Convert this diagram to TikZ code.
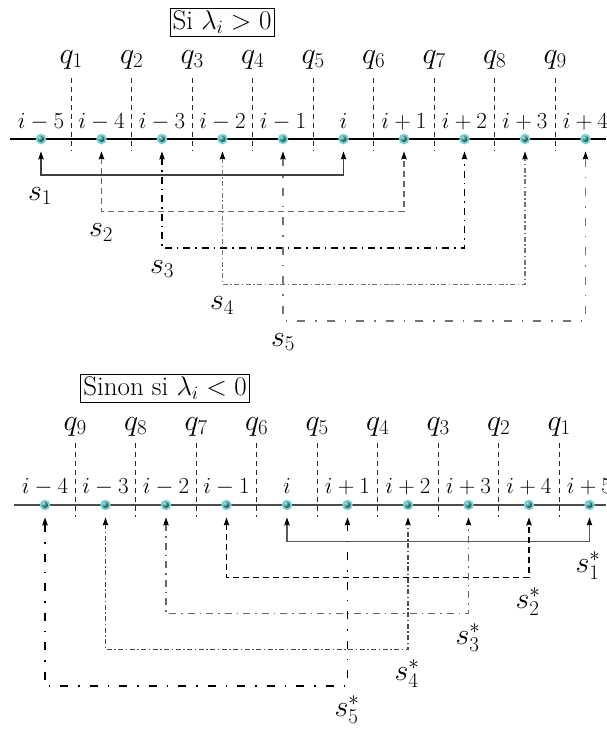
\RequirePackage{fix-cm}
\documentclass[tikz,border=0pt]{standalone}
\usetikzlibrary{arrows.meta}
\definecolor{halo}{RGB}{120,206,206}
\definecolor{balldark}{RGB}{20,120,120}
\tikzset{
  every node/.style={font=\fontsize{23}{27}\selectfont},
  big/.style={font=\fontsize{30}{34}\selectfont},
  pt/.style={circle,fill=halo,minimum size=10.5pt,inner sep=0pt,
    path picture={\shade[ball color=balldark] (path picture bounding box.center) circle (3pt);}},
  sep/.style={black!85,line width=0.9pt,dash pattern=on 5pt off 4pt},
  axis/.style={line width=1.2pt},
  lbl/.style={anchor=base,inner sep=0pt},
  titlebox/.style={draw,line width=0.8pt,inner sep=2.5pt,font=\fontsize{27}{31}\selectfont},
  link/.style={line width=1.1pt,{Stealth[length=8pt,width=5.5pt,inset=1pt,color=black]}-{Stealth[length=8pt,width=5.5pt,inset=1pt,color=black]}},
  lsolid/.style={link,black!75},
  ldash/.style={link,black!60,dash pattern=on 6pt off 4pt},
  ldashb/.style={link,black,dash pattern=on 6pt off 4pt},
  ldot/.style={link,black,dash pattern=on 7pt off 5pt on 1.5pt off 5pt},
  ldotg/.style={link,black!60,dash pattern=on 7pt off 5pt on 1.5pt off 5pt},
  ldense/.style={link,black!55,dash pattern=on 5pt off 2.5pt on 1.5pt off 2.5pt},
  ldenseb/.style={link,black!70,dash pattern=on 5pt off 2.5pt on 1.5pt off 2.5pt},
  lsparse/.style={link,black!55,dash pattern=on 8pt off 10pt on 1.5pt off 10pt},
  lsparseb/.style={link,black,dash pattern=on 8pt off 10pt on 1.5pt off 10pt},
}
\begin{document}
\begin{tikzpicture}[x=1pt,y=-1pt]
\useasboundingbox (0,0) rectangle (606,729);

% ================= TOP =================
\node[titlebox] (title1) at (222,22) {Si $\lambda_i>0$};
\coordinate (axL1) at (10,139);
\coordinate (axR1) at (606,139);
\draw[axis] (axL1) -- (axR1);
\foreach \k in {1,...,9}{
  \pgfmathsetmacro{\xs}{71.25+60.5*(\k-1)}
  \coordinate (st\k) at (\xs,78);
  \coordinate (sb\k) at (\xs,151);
  \draw[sep] (st\k) -- (sb\k);
  \node[lbl,big] (qt\k) at (\xs,63) {$q_{\k}$};
}
\foreach \k/\t in {1/i-5,2/i-4,3/i-3,4/i-2,5/i-1,6/i,7/i+1,8/i+2,9/i+3,10/i+4}{
  \pgfmathsetmacro{\xp}{41+60.5*(\k-1)}
  \node[lbl] (lt\k) at (\xp,128) {$\t$};
  \node[pt] (t\k) at (\xp,139) {};
}
\draw[lsolid] ([yshift=-7pt]t1.south) -- (t1 |- 0,175) -- (t6 |- 0,175) -- ([yshift=-7pt]t6.south);
\draw[ldash]  ([yshift=-7pt]t2.south) -- (t2 |- 0,211.5) -- (t7 |- 0,211.5) -- ([yshift=-7pt]t7.south);
\draw[ldot]   ([yshift=-7pt]t3.south) -- (t3 |- 0,248) -- (t8 |- 0,248) -- ([yshift=-7pt]t8.south);
\draw[ldense] ([yshift=-7pt]t4.south) -- (t4 |- 0,284.5) -- (t9 |- 0,284.5) -- ([yshift=-7pt]t9.south);
\draw[lsparse]([yshift=-7pt]t5.south) -- (t5 |- 0,321) -- (t10 |- 0,321) -- ([yshift=-7pt]t10.south);
\node[lbl,big] (s1) at (40,200) {$s_1$};
\node[lbl,big] (s2) at (101,236.5) {$s_2$};
\node[lbl,big] (s3) at (162,273) {$s_3$};
\node[lbl,big] (s4) at (222,309.5) {$s_4$};
\node[lbl,big] (s5) at (283,346) {$s_5$};

% ================= BOTTOM =================
\node[titlebox] (title2) at (165,388) {Sinon si $\lambda_i<0$};
\coordinate (axL2) at (14,505);
\coordinate (axR2) at (606,505);
\draw[axis,black!70] (axL2) -- (axR2);
\foreach \k/\q in {1/9,2/8,3/7,4/6,5/5,6/4,7/3,8/2,9/1}{
  \pgfmathsetmacro{\xs}{75.25+60.5*(\k-1)}
  \coordinate (bt\k) at (\xs,443);
  \coordinate (bb\k) at (\xs,517);
  \draw[sep] (bt\k) -- (bb\k);
  \node[lbl,big] (qb\k) at (\xs,430) {$q_{\q}$};
}
\foreach \k/\t in {1/i-4,2/i-3,3/i-2,4/i-1,5/i,6/i+1,7/i+2,8/i+3,9/i+4,10/i+5}{
  \pgfmathsetmacro{\xp}{45+60.5*(\k-1)}
  \node[lbl] (lb\k) at (\xp,493) {$\t$};
  \node[pt] (b\k) at (\xp,505) {};
}
\draw[lsolid,black!65] ([yshift=-7pt]b5.south) -- (b5 |- 0,541.5) -- (b10 |- 0,541.5) -- ([yshift=-7pt]b10.south);
\draw[ldashb]  ([yshift=-7pt]b4.south) -- (b4 |- 0,577.5) -- (b9 |- 0,577.5) -- ([yshift=-7pt]b9.south);
\draw[ldotg]   ([yshift=-7pt]b3.south) -- (b3 |- 0,613.5) -- (b8 |- 0,613.5) -- ([yshift=-7pt]b8.south);
\draw[ldenseb] ([yshift=-7pt]b2.south) -- (b2 |- 0,649.5) -- (b7 |- 0,649.5) -- ([yshift=-7pt]b7.south);
\draw[lsparseb]([yshift=-7pt]b1.south) -- (b1 |- 0,686) -- (b6 |- 0,686) -- ([yshift=-7pt]b6.south);
\node[lbl,big] (r1) at (588,572) {$s^*_1$};
\node[lbl,big] (r2) at (528,608) {$s^*_2$};
\node[lbl,big] (r3) at (468,644) {$s^*_3$};
\node[lbl,big] (r4) at (407,680) {$s^*_4$};
\node[lbl,big] (r5) at (347,716) {$s^*_5$};
\end{tikzpicture}
\end{document}
